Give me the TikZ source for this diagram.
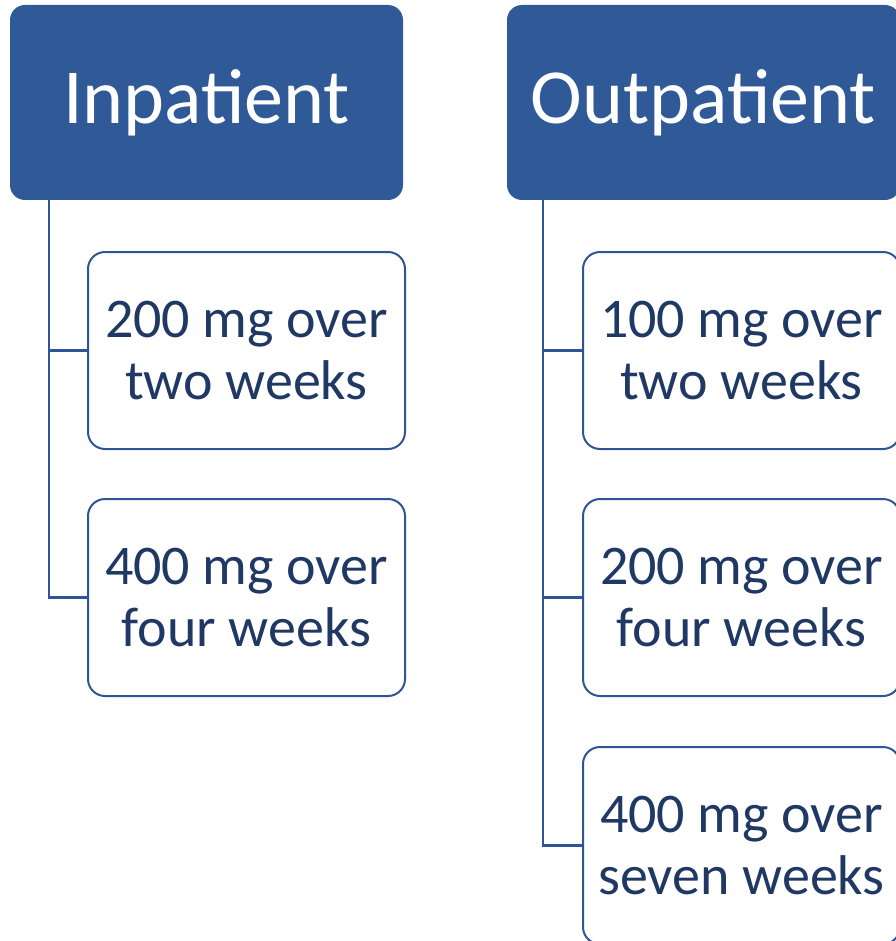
\documentclass[tikz,border=0pt]{standalone}
\usepackage{fontspec}
\setmainfont{Carlito}
\definecolor{hdr}{HTML}{2F5997}
\definecolor{bord}{HTML}{2F5597}
\definecolor{txt}{HTML}{1F3864}
\begin{document}
\begin{tikzpicture}[x=1pt,y=-1pt,
  header/.style={draw=none,fill=hdr,rounded corners=15pt,text=white,
    minimum width=393pt,minimum height=195pt,inner sep=0pt,
    font=\fontsize{78}{90}\selectfont},
  child/.style={draw=bord,line width=2pt,fill=white,rounded corners=17pt,text=txt,
    minimum width=317pt,minimum height=197pt,inner sep=0pt,align=center,
    font=\fontsize{56}{62}\selectfont},
  conn/.style={draw=bord,line width=2.5pt}]
\useasboundingbox (0,0) rectangle (895,941);
\node[header] (in) at (206.5,102.5) {Inpatient};
\node[header] (out) at (703.5,102.5) {Outpatient};
\node[child] (i1) at (246.5,350.5) {200 mg over\\two weeks};
\node[child] (i2) at (246.5,597.5) {400 mg over\\four weeks};
\node[child] (o1) at (741.5,350.5) {100 mg over\\two weeks};
\node[child] (o2) at (741.5,597.5) {200 mg over\\four weeks};
\node[child] (o3) at (741.5,845.5) {400 mg over\\seven weeks};
\draw[conn] ([xshift=39pt]in.south west) |- (i1.west);
\draw[conn] ([xshift=39pt]in.south west) |- (i2.west);
\draw[conn] ([xshift=36pt]out.south west) |- (o1.west);
\draw[conn] ([xshift=36pt]out.south west) |- (o2.west);
\draw[conn] ([xshift=36pt]out.south west) |- (o3.west);
\end{tikzpicture}
\end{document}
